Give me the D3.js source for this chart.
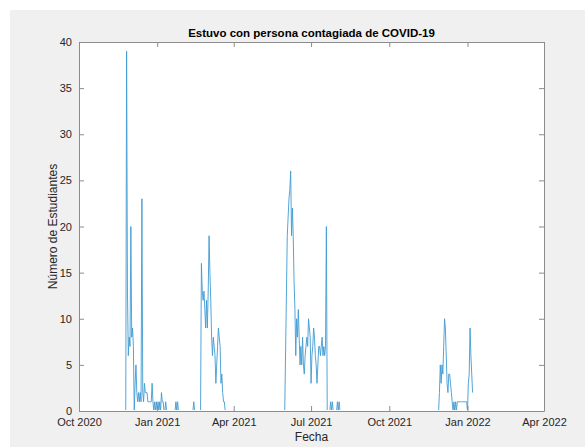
<!DOCTYPE html>
<html>
<head>
<meta charset="utf-8">
<script src="https://cdn.jsdelivr.net/npm/d3@7"></script>
<style>
  html, body { margin: 0; padding: 0; background: #ffffff; }
  svg { display: block; font-family: Helvetica, Arial, 'Liberation Sans', sans-serif; }
</style>
</head>
<body>
<div class="js-chart"></div>
<script>
(function() {
  'use strict';

  /* ------------------------------------------------------------ *\
      Datos (fecha, número de estudiantes)
  \* ------------------------------------------------------------ */

  var fechas1 = ['2020-11-25','2020-11-26','2020-11-27','2020-11-28','2020-11-29','2020-11-30',
    '2020-12-01','2020-12-02','2020-12-03','2020-12-04','2020-12-05','2020-12-06','2020-12-07',
    '2020-12-08','2020-12-09','2020-12-10','2020-12-11','2020-12-12','2020-12-13','2020-12-14',
    '2020-12-15','2020-12-16','2020-12-17','2020-12-18','2020-12-19','2020-12-20','2020-12-21',
    '2020-12-22','2020-12-23','2020-12-24','2020-12-25','2020-12-26','2020-12-27','2020-12-28',
    '2020-12-29','2020-12-30','2020-12-31','2021-01-01','2021-01-02','2021-01-03','2021-01-04',
    '2021-01-05','2021-01-06','2021-01-07','2021-01-08','2021-01-09','2021-01-10','2021-01-11',
    '2021-01-12','2021-01-22','2021-01-23','2021-01-24','2021-01-25','2021-01-26','2021-02-12',
    '2021-02-13','2021-02-14'];
  var casos1 = [0,39,13,6,8,7,20,8,9,7,0,3,5,2,1,2,1,2,1,23,2,1,3,2,2,2,1,1,1,1,1,3,1,0,1,0,1,
    0,1,0,1,0,2,1,1,0,0,1,0,0,1,0,1,0,0,1,0];

  var fechas2 = ['2021-02-21','2021-02-22','2021-02-23','2021-02-24','2021-02-25','2021-02-26',
    '2021-02-27','2021-02-28','2021-03-01','2021-03-02','2021-03-03','2021-03-04','2021-03-05',
    '2021-03-06','2021-03-07','2021-03-08','2021-03-09','2021-03-10','2021-03-11','2021-03-12',
    '2021-03-13','2021-03-14','2021-03-15','2021-03-16','2021-03-17','2021-03-18','2021-03-19',
    '2021-03-20','2021-03-21','2021-03-22'];
  var casos2 = [0,16,13,12,13,11,9,12,9,13,19,15,12,8,6,8,7,6,3,5,7,9,8,7,3,4,2,1,1,0];

  var fechas3 = ['2021-05-31','2021-06-03','2021-06-04','2021-06-05','2021-06-06','2021-06-07',
    '2021-06-08','2021-06-09','2021-06-10','2021-06-11','2021-06-12','2021-06-13','2021-06-14',
    '2021-06-15','2021-06-16','2021-06-17','2021-06-18','2021-06-19','2021-06-20','2021-06-21',
    '2021-06-22','2021-06-23','2021-06-24','2021-06-25','2021-06-26','2021-06-27','2021-06-28',
    '2021-06-29','2021-06-30','2021-07-01','2021-07-02','2021-07-03','2021-07-04','2021-07-05',
    '2021-07-06','2021-07-07','2021-07-08','2021-07-09','2021-07-10','2021-07-11','2021-07-12',
    '2021-07-13','2021-07-14','2021-07-15','2021-07-16','2021-07-17','2021-07-18','2021-07-19',
    '2021-07-20','2021-07-23','2021-07-24','2021-07-25','2021-07-26','2021-07-27','2021-07-31',
    '2021-08-01','2021-08-02','2021-08-03','2021-08-04'];
  var casos3 = [0,19,21,23,24,26,19,22,19,14,11,6,10,8,11,8,5,7,5,8,5,4,6,7,8,7,10,9,8,3,6,7,
    9,8,6,5,3,5,7,7,6,7,8,6,7,6,7,20,0,0,1,0,1,0,0,1,0,1,0];

  var fechas4 = ['2021-11-28','2021-11-29','2021-11-30','2021-12-01','2021-12-02','2021-12-03',
    '2021-12-04','2021-12-05','2021-12-06','2021-12-07','2021-12-08','2021-12-09','2021-12-10',
    '2021-12-11','2021-12-12','2021-12-13','2021-12-14','2021-12-15','2021-12-16','2021-12-17',
    '2021-12-18','2021-12-19','2021-12-20','2021-12-21','2021-12-22','2021-12-23','2021-12-24',
    '2021-12-25','2021-12-26','2021-12-27','2021-12-28','2021-12-29','2021-12-30','2021-12-31',
    '2022-01-01','2022-01-02','2022-01-03','2022-01-04','2022-01-05','2022-01-06','2022-01-07'];
  var casos4 = [0,2,5,3,5,4,7,10,9,6,3,2,4,4,3,2,1,0,1,0,1,0,1,1,1,1,1,1,1,1,1,1,1,1,0,3,4,9,
    6,4,2];

  var xTicks = ['2020-10-01','2021-01-01','2021-04-01','2021-07-01','2021-10-01','2022-01-01','2022-04-01'];
  var xTickLabels = ['Oct 2020','Jan 2021','Apr 2021','Jul 2021','Oct 2021','Jan 2022','Apr 2022'];
  var yTicks = [0, 5, 10, 15, 20, 25, 30, 35, 40];

  var titulo = 'Estuvo con persona contagiada de COVID-19';
  var etiquetaX = 'Fecha';
  var etiquetaY = 'Número de Estudiantes';

  /* ------------------------------------------------------------ *\
      Medidas
  \* ------------------------------------------------------------ */

  var width = 585;
  var height = 447;
  var plot = { left: 79, top: 42, right: 544, bottom: 411 };
  var tickLen = 5;
  var axisColour = '#8c8c8c';
  var textColour = '#262626';
  var lineColour = '#3f9bd2';

  var parseDate = d3.timeParse('%Y-%m-%d');

  var fechas = fechas1.concat(fechas2, fechas3, fechas4);
  var casos = casos1.concat(casos2, casos3, casos4);
  var data = fechas.map(function(f, i) {
    return { fecha: parseDate(f), valor: casos[i] };
  });

  /* ------------------------------------------------------------ *\
      Escalas
  \* ------------------------------------------------------------ */

  var x = d3.scaleTime()
    .domain([parseDate(xTicks[0]), parseDate(xTicks[xTicks.length - 1])])
    .range([plot.left, plot.right]);

  var y = d3.scaleLinear()
    .domain([0, 40])
    .range([plot.bottom, plot.top]);

  var svg = d3.select('.js-chart')
    .append('svg')
    .attr('width', width)
    .attr('height', height);

  // fondo de la figura
  svg.append('rect')
    .attr('x', 10).attr('y', 10)
    .attr('width', width - 10).attr('height', height - 10)
    .attr('fill', '#f0f0f0');

  svg.append('rect')
    .attr('x', plot.left).attr('y', plot.top)
    .attr('width', plot.right - plot.left)
    .attr('height', plot.bottom - plot.top)
    .attr('fill', '#ffffff');

  // los tramos en cero quedan bajo el eje
  svg.append('clipPath')
    .attr('id', 'recorte')
    .append('rect')
    .attr('x', plot.left)
    .attr('y', plot.top - 5)
    .attr('width', plot.right - plot.left)
    .attr('height', plot.bottom - plot.top + 4);

  /* ------------------------------------------------------------ *\
      Línea
  \* ------------------------------------------------------------ */

  var line = d3.line()
    .x(function(d) { return x(d.fecha); })
    .y(function(d) { return y(d.valor); });

  svg.append('path')
    .datum(data)
    .attr('d', line)
    .attr('clip-path', 'url(#recorte)')
    .attr('fill', 'none')
    .attr('stroke', lineColour)
    .attr('stroke-width', 0.9)
    .attr('stroke-linejoin', 'round');

  /* ------------------------------------------------------------ *\
      Ejes (caja con marcas hacia dentro)
  \* ------------------------------------------------------------ */

  var xTickDates = xTicks.map(parseDate);
  var fmtX = function(d, i) { return xTickLabels[i]; };

  svg.append('g')
    .attr('transform', 'translate(0,' + plot.bottom + ')')
    .call(d3.axisBottom(x).tickValues(xTickDates).tickFormat(fmtX)
      .tickSizeInner(-tickLen).tickSizeOuter(0).tickPadding(7))
    .call(styleAxis);

  svg.append('g')
    .attr('transform', 'translate(0,' + plot.top + ')')
    .call(d3.axisTop(x).tickValues(xTickDates).tickFormat('')
      .tickSizeInner(-tickLen).tickSizeOuter(0))
    .call(styleAxis);

  svg.append('g')
    .attr('transform', 'translate(' + plot.left + ',0)')
    .call(d3.axisLeft(y).tickValues(yTicks).tickFormat(d3.format('d'))
      .tickSizeInner(-tickLen).tickSizeOuter(0).tickPadding(7))
    .call(styleAxis);

  svg.append('g')
    .attr('transform', 'translate(' + plot.right + ',0)')
    .call(d3.axisRight(y).tickValues(yTicks).tickFormat('')
      .tickSizeInner(-tickLen).tickSizeOuter(0))
    .call(styleAxis);

  function styleAxis(g) {
    g.select('.domain').attr('stroke', axisColour).attr('stroke-width', 1);
    g.selectAll('.tick line').attr('stroke', axisColour);
    g.selectAll('.tick text')
      .attr('fill', textColour)
      .attr('font-size', 11)
      .attr('font-family', 'Helvetica, Arial, Liberation Sans, sans-serif');
  }

  /* ------------------------------------------------------------ *\
      Textos
  \* ------------------------------------------------------------ */

  svg.append('text')
    .attr('x', (plot.left + plot.right) / 2)
    .attr('y', 37)
    .attr('text-anchor', 'middle')
    .attr('font-size', 11.5)
    .attr('font-weight', 'bold')
    .attr('fill', '#000000')
    .text(titulo);

  svg.append('text')
    .attr('x', (plot.left + plot.right) / 2)
    .attr('y', 441)
    .attr('text-anchor', 'middle')
    .attr('font-size', 12)
    .attr('fill', textColour)
    .text(etiquetaX);

  svg.append('text')
    .attr('transform', 'translate(57,' + (plot.top + plot.bottom) / 2 + ') rotate(-90)')
    .attr('text-anchor', 'middle')
    .attr('font-size', 12)
    .attr('fill', textColour)
    .text(etiquetaY);
})();
</script>
</body>
</html>
